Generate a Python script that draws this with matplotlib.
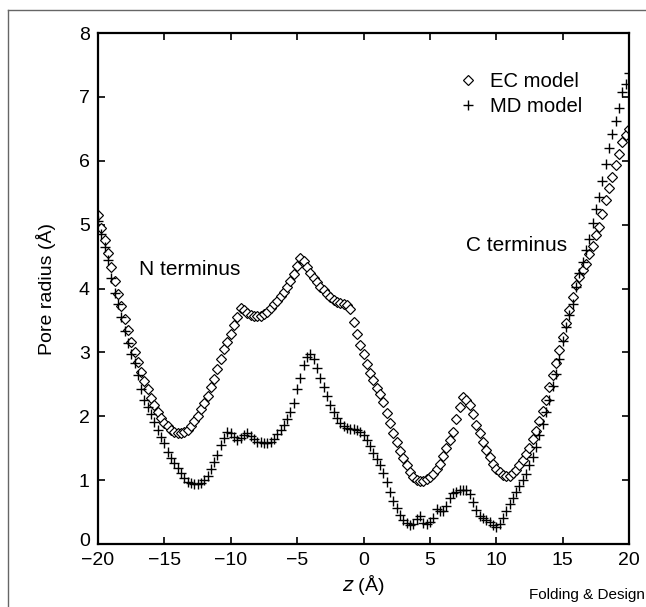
"""
Pore radius profiles along z for the EC and MD models.
"""

import numpy as np
import matplotlib
matplotlib.use('Agg')
import matplotlib.pyplot as plt
from matplotlib.lines import Line2D
from matplotlib.transforms import ScaledTranslation

plt.rcParams['font.family'] = ['Liberation Sans', 'DejaVu Sans']

# sample positions along the pore axis (0.25 A steps)
z = np.arange(-20.0, 20.001, 0.25)

ec_radius = [
    5.15, 4.94, 4.76, 4.56, 4.34, 4.12, 3.91, 3.72, 3.53, 3.35,   # -20 .. -17.75
    3.17, 3.00, 2.85, 2.70, 2.55, 2.42, 2.29, 2.17, 2.06, 1.97,   # -17.5 .. -15.25
    1.89, 1.84, 1.79, 1.76, 1.74, 1.74, 1.76, 1.79, 1.85, 1.92,   # -15 .. -12.75
    2.01, 2.11, 2.21, 2.32, 2.46, 2.59, 2.74, 2.90, 3.05, 3.16,   # -12.5 .. -10.25
    3.28, 3.43, 3.56, 3.70, 3.66, 3.62, 3.59, 3.57, 3.57, 3.57,   # -10 .. -7.75
    3.60, 3.64, 3.69, 3.75, 3.81, 3.88, 3.95, 4.03, 4.12, 4.23,   # -7.5 .. -5.25
    4.36, 4.47, 4.43, 4.34, 4.25, 4.17, 4.10, 4.03, 3.97, 3.91,   # -5 .. -2.75
    3.86, 3.82, 3.79, 3.77, 3.76, 3.74, 3.68, 3.47, 3.29, 3.12,   # -2.5 .. -0.25
    2.97, 2.82, 2.68, 2.56, 2.45, 2.35, 2.23, 2.05, 1.89, 1.73,   # 0 .. 2.25
    1.59, 1.46, 1.34, 1.24, 1.13, 1.05, 1.00, 0.98, 0.98, 1.01,   # 2.5 .. 4.75
    1.05, 1.09, 1.17, 1.26, 1.37, 1.50, 1.63, 1.76, 1.96, 2.14,   # 5 .. 7.25
    2.30, 2.25, 2.17, 2.03, 1.87, 1.73, 1.59, 1.47, 1.36, 1.26,   # 7.5 .. 9.75
    1.18, 1.12, 1.08, 1.06, 1.07, 1.11, 1.16, 1.24, 1.32, 1.41,   # 10 .. 12.25
    1.51, 1.64, 1.77, 1.92, 2.08, 2.26, 2.46, 2.64, 2.83, 3.04,   # 12.5 .. 14.75
    3.24, 3.46, 3.66, 3.87, 4.06, 4.18, 4.29, 4.39, 4.54, 4.66,   # 15 .. 17.25
    4.83, 4.97, 5.17, 5.39, 5.57, 5.74, 5.94, 6.11, 6.30, 6.40,   # 17.5 .. 19.75
    6.50,                                                         # 20
]

md_radius = [
    5.05, 4.85, 4.65, 4.44, 4.17, 3.93, 3.76, 3.55, 3.33, 3.15,
    2.98, 2.84, 2.64, 2.43, 2.26, 2.15, 2.04, 1.91, 1.78, 1.68,
    1.58, 1.44, 1.35, 1.27, 1.19, 1.11, 1.03, 0.97, 0.95, 0.94,
    0.94, 0.95, 1.00, 1.07, 1.17, 1.29, 1.40, 1.55, 1.66, 1.75,
    1.73, 1.67, 1.63, 1.66, 1.70, 1.73, 1.69, 1.64, 1.60, 1.59,
    1.58, 1.58, 1.60, 1.65, 1.72, 1.79, 1.87, 1.96, 2.07, 2.20,
    2.42, 2.60, 2.80, 2.92, 2.97, 2.89, 2.76, 2.60, 2.46, 2.32,
    2.18, 2.06, 1.97, 1.90, 1.85, 1.82, 1.80, 1.80, 1.79, 1.75,
    1.70, 1.63, 1.54, 1.42, 1.33, 1.24, 1.11, 0.97, 0.82, 0.68,
    0.56, 0.45, 0.38, 0.33, 0.30, 0.32, 0.39, 0.44, 0.33, 0.31,
    0.34, 0.41, 0.55, 0.52, 0.52, 0.60, 0.72, 0.80, 0.82, 0.84,
    0.85, 0.84, 0.79, 0.66, 0.53, 0.44, 0.41, 0.38, 0.35, 0.30,
    0.27, 0.32, 0.41, 0.52, 0.62, 0.72, 0.81, 0.91, 1.00, 1.09,
    1.23, 1.36, 1.52, 1.70, 1.88, 2.07, 2.26, 2.47, 2.66, 2.89,
    3.18, 3.40, 3.58, 3.76, 4.02, 4.25, 4.42, 4.60, 4.78, 5.02,
    5.24, 5.44, 5.68, 5.95, 6.20, 6.42, 6.63, 6.82, 7.08, 7.20,
    7.37,
]

xticks = [-20, -15, -10, -5, 0, 5, 10, 15, 20]
yticks = [0, 1, 2, 3, 4, 5, 6, 7, 8]

fig = plt.figure(figsize=(6.46, 6.07), dpi=100)
ax = fig.add_axes([0.1517, 0.1038, 0.822, 0.8418])

ax.plot(z, ec_radius, linestyle='none', marker='D', markersize=5.3,
        markerfacecolor='white', markeredgecolor='black',
        markeredgewidth=0.85, label='EC model')
ax.plot(z, md_radius, linestyle='none', marker='+', markersize=7,
        color='black', markeredgewidth=1.0, label='MD model')

ax.set_xlim(-20, 20)
ax.set_ylim(0, 8)
ax.set_xticks(xticks)
ax.set_yticks(yticks)
ax.tick_params(direction='in', length=5, width=1.2, labelsize=14,
               top=True, right=True, labeltop=False, labelright=False)
ax.tick_params(axis='y', pad=6)
ax.tick_params(axis='x', pad=6)
for spine in ax.spines.values():
    spine.set_linewidth(1.6)

# lift the "0" a little so it clears the "-20" below it
zero_lbl = ax.yaxis.get_major_ticks()[0].label1
zero_lbl.set_transform(zero_lbl.get_transform() +
                       ScaledTranslation(0, 3 / 72, fig.dpi_scale_trans))

ax.set_xlabel(r'$z$ (Å)', fontsize=14, labelpad=3)
ax.set_ylabel('Pore radius (Å)', fontsize=14, labelpad=16)

ax.text(-16.9, 4.3, 'N terminus', fontsize=15, va='center', ha='left')
ax.text(7.7, 4.67, 'C terminus', fontsize=15, va='center', ha='left')

ax.legend(loc='upper right', bbox_to_anchor=(0.928, 0.94), frameon=False,
          fontsize=14.6, handlelength=1.0, handletextpad=0.6, labelspacing=0.3,
          borderaxespad=0.0)

fig.text(0.998, 0.02, 'Folding & Design', fontsize=11, ha='right',
         va='center')

# thin grey frame along the top and left of the figure
fig.add_artist(Line2D([0.012, 1.0], [0.983, 0.983], color='#666666',
                      linewidth=1.0, transform=fig.transFigure))
fig.add_artist(Line2D([0.013, 0.013], [0.0, 0.983], color='#666666',
                      linewidth=1.0, transform=fig.transFigure))

plt.savefig('out.png', dpi=100)
